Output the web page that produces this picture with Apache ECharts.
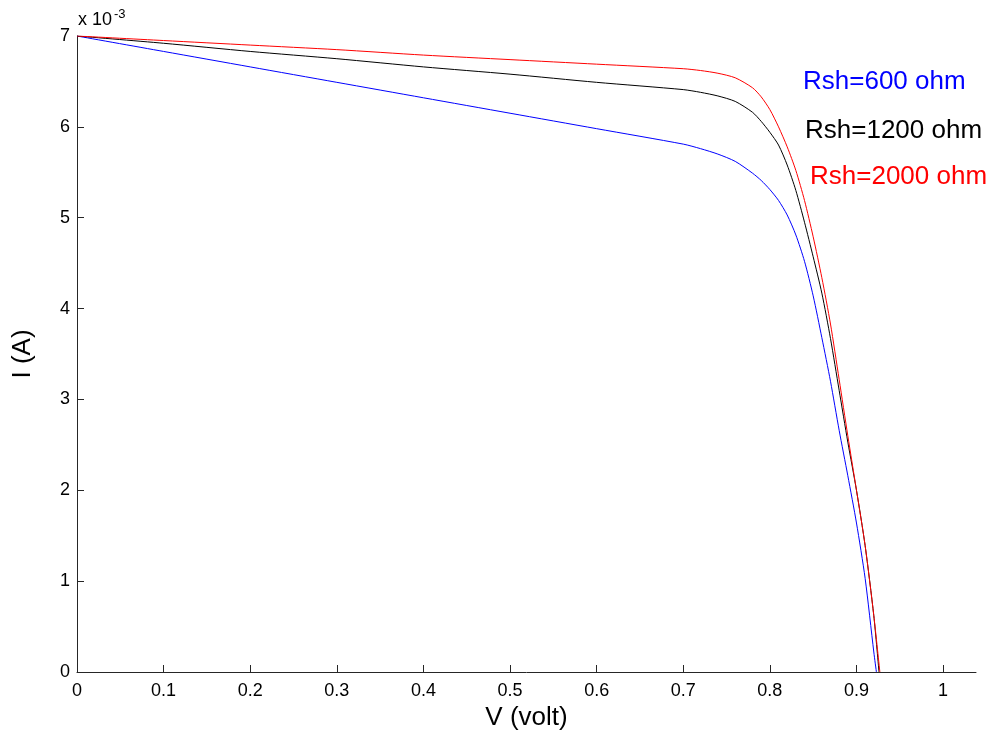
<!DOCTYPE html>
<html>
<head>
<meta charset="utf-8">
<script src="https://cdn.jsdelivr.net/npm/echarts@6/dist/echarts.min.js"></script>
<style>
  html, body { margin: 0; padding: 0; background: #fff; }
  #chart { width: 995px; height: 735px; }
</style>
</head>
<body>
<div id="chart"></div>
<script>
// 电压采样点 (V)
const voltage = [0, 0.1, 0.2, 0.3, 0.4, 0.5, 0.6, 0.7, 0.72, 0.74, 0.76, 0.78, 0.79, 0.8,
  0.81, 0.82, 0.83, 0.84, 0.85, 0.86, 0.87, 0.88, 0.89, 0.9, 0.91, 0.92]

// 电流 (x 10^-3 A)
const current600 = [7.00, 6.83, 6.66, 6.49, 6.32, 6.15, 5.98, 5.81, 5.76, 5.70, 5.62, 5.49, 5.41, 5.31,
  5.19, 5.03, 4.81, 4.52, 4.14, 3.68, 3.20, 2.66, 2.16, 1.64, 1.03, 0.22]
const current1200 = [7.00, 6.92, 6.83, 6.75, 6.66, 6.58, 6.49, 6.41, 6.38, 6.34, 6.28, 6.16, 6.06, 5.94,
  5.80, 5.58, 5.30, 4.95, 4.57, 4.17, 3.67, 3.10, 2.53, 2.00, 1.39, 0.62]
const current2000 = [7.00, 6.95, 6.90, 6.85, 6.79, 6.74, 6.69, 6.64, 6.62, 6.59, 6.54, 6.43, 6.33, 6.19,
  6.00, 5.78, 5.52, 5.19, 4.79, 4.34, 3.83, 3.22, 2.60, 2.00, 1.39, 0.62]

// 开路电压 (电流降到 0 处)
const vEnd = { r600: 0.923, r1200: 0.926, r2000: 0.927 }

const xTicks = [0, 0.1, 0.2, 0.3, 0.4, 0.5, 0.6, 0.7, 0.8, 0.9, 1]
const seriesNames = ['Rsh=600 ohm', 'Rsh=1200 ohm', 'Rsh=2000 ohm']
const seriesColors = ['#0000ff', '#000000', '#ff0000']

const toPairs = (ys, end) => voltage.map((v, i) => [v, ys[i]]).concat([[end, 0]])

const font = '"Liberation Sans", Arial, Helvetica, sans-serif'

const chart = echarts.init(document.getElementById('chart'))

const option = {
  animation: false,
  grid: { left: 77, right: 19, top: 36, bottom: 63, outerBoundsMode: 'none' },
  xAxis: {
    type: 'value',
    min: 0,
    max: 1.038,
    interval: 0.1,
    name: 'V (volt)',
    nameLocation: 'middle',
    nameGap: 33,
    nameTextStyle: { fontFamily: font, fontSize: 26, color: '#000' },
    axisLine: { show: true, lineStyle: { color: '#262626', width: 1 } },
    axisTick: { show: true, inside: true, length: 7, customValues: xTicks, lineStyle: { color: '#262626' } },
    axisLabel: {
      customValues: xTicks,
      margin: 10,
      fontFamily: font, fontSize: 18, color: '#000',
      formatter: v => String(+v.toFixed(2))
    },
    splitLine: { show: false }
  },
  yAxis: {
    type: 'value',
    min: 0,
    max: 7,
    interval: 1,
    name: 'I (A)',
    nameLocation: 'middle',
    nameGap: 41,
    nameRotate: 90,
    nameTextStyle: { fontFamily: font, fontSize: 26, color: '#000' },
    axisLine: { show: true, lineStyle: { color: '#262626', width: 1 } },
    axisTick: { show: true, inside: true, length: 7, lineStyle: { color: '#262626' } },
    axisLabel: { margin: 7, fontFamily: font, fontSize: 18, color: '#000' },
    splitLine: { show: false }
  },
  graphic: [
    {
      type: 'text',
      left: 78,
      top: 8,
      style: {
        text: 'x 10{sup|-3}',
        font: '18px ' + font,
        fill: '#000',
        rich: { sup: { fontSize: 13, fontFamily: font, fill: '#000', verticalAlign: 'top', padding: [0, 0, 12, 2] } }
      }
    },
    { type: 'text', left: 803, top: 69, style: { text: seriesNames[0], font: '26px ' + font, fill: seriesColors[0] } },
    { type: 'text', left: 805, top: 118, style: { text: seriesNames[1], font: '26px ' + font, fill: seriesColors[1] } },
    { type: 'text', left: 810, top: 164, style: { text: seriesNames[2], font: '26px ' + font, fill: seriesColors[2] } }
  ],
  series: [
    { name: seriesNames[0], data: toPairs(current600, vEnd.r600) },
    { name: seriesNames[1], data: toPairs(current1200, vEnd.r1200) },
    { name: seriesNames[2], data: toPairs(current2000, vEnd.r2000) }
  ].map((s, i) => ({
    ...s,
    type: 'line',
    showSymbol: false,
    smooth: 0.25,
    lineStyle: { color: seriesColors[i], width: 1 },
    itemStyle: { color: seriesColors[i] }
  }))
}

chart.setOption(option)
</script>
</body>
</html>
